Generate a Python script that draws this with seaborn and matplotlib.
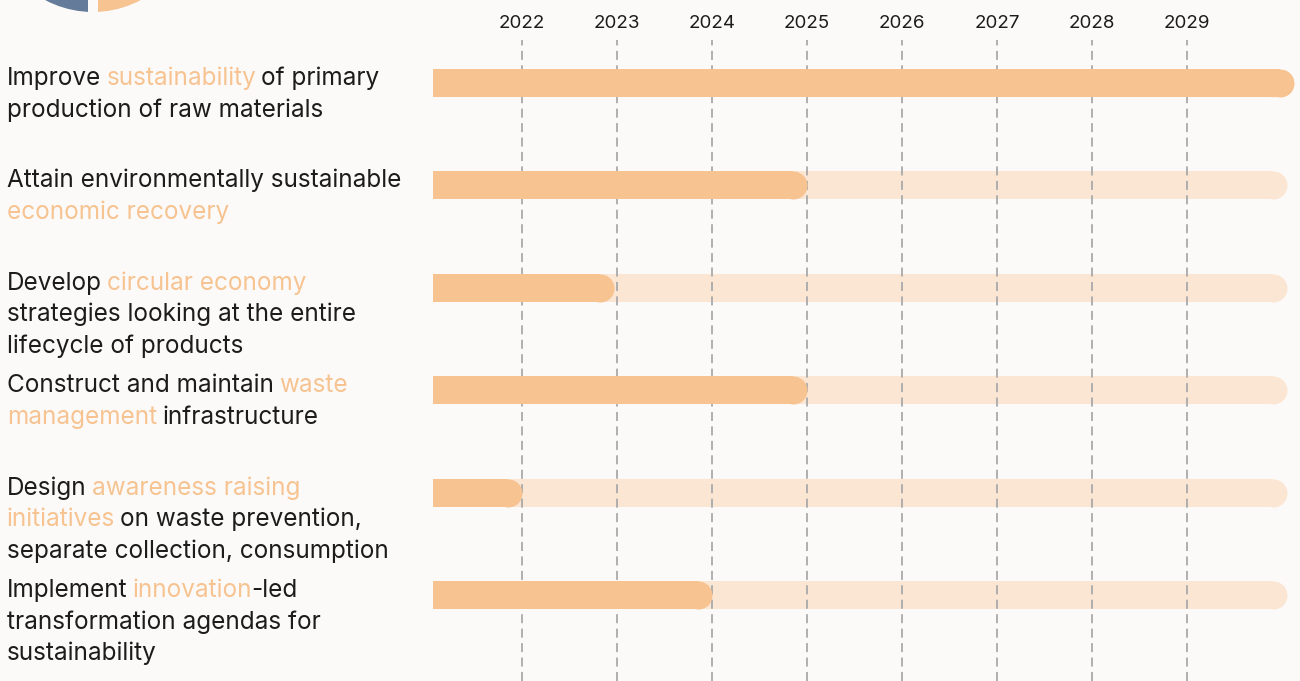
import re
import numpy as np
import pandas as pd
import seaborn as sns
import matplotlib.pyplot as plt
from matplotlib.transforms import blended_transform_factory

# 每一行的标签，方括号内的词用橙色高亮
labels = [
    ["Improve [sustainability] of primary", "production of raw materials"],
    ["Attain environmentally sustainable", "[economic recovery]"],
    ["Develop [circular economy]", "strategies looking at the entire", "lifecycle of products"],
    ["Construct and maintain [waste]", "[management] infrastructure"],
    ["Design [awareness raising]", "[initiatives] on waste prevention,", "separate collection, consumption"],
    ["Implement [innovation]-led", "transformation agendas for", "sustainability"],
]
progress_end = [2030.13, 2025.0, 2022.97, 2025.0, 2022.0, 2024.0]
plan_end = [2030.05, 2030.05, 2030.05, 2030.05, 2030.05, 2030.05]
years = [2022, 2023, 2024, 2025, 2026, 2027, 2028, 2029]
pie_values = [50, 50]

BG = '#fcfaf8'
DARK = '#f6c391'
LIGHT = '#fbe5d3'
BLUE = '#647b99'
INK = '#1c1c1c'
FONT = 'Inter'
FS = 17.5
LINE_PT = 22.7
BAR_W = 0.273


def split_parts(line):
    parts = []
    for p in re.split(r'(\[[^\]]+\])', line):
        if p == '':
            continue
        if p.startswith('['):
            parts.append((p[1:-1], True))
        else:
            parts.append((p, False))
    return parts


def draw_label(ax, fig, row, lines):
    blend = blended_transform_factory(fig.transFigure, ax.transData)
    space = FS * 0.27
    for i, line in enumerate(lines):
        prev = None
        gap = 0
        for text, hl in split_parts(line):
            lead = len(text) - len(text.lstrip(' '))
            trail = len(text) - len(text.rstrip(' '))
            gap += lead * space
            color = DARK if hl else INK
            if prev is None:
                prev = ax.annotate(text.strip(), xy=(7 / 1300, row), xycoords=blend,
                                   xytext=(gap, -i * LINE_PT - 1.5), textcoords='offset points',
                                   va='baseline', ha='left', color=color, fontsize=FS,
                                   family=FONT, annotation_clip=False)
            else:
                prev = ax.annotate(text.strip(), xy=(1, 0), xycoords=prev,
                                   xytext=(gap - 1, 0), textcoords='offset points',
                                   va='bottom', ha='left', color=color, fontsize=FS,
                                   family=FONT, annotation_clip=False)
            gap = trail * space


if __name__ == '__main__':
    sns.set_theme(style='white', rc={'figure.facecolor': BG, 'axes.facecolor': BG})
    plt.rcParams['font.family'] = [FONT, 'DejaVu Sans']

    n = len(labels)
    fig = plt.figure(figsize=(13, 6.81), dpi=100)
    ax = fig.add_axes([433 / 1300, 0, 867 / 1300, 641 / 681])

    # 圆角半径换算成年份单位（95 px 一年）
    r = 14 / 95
    df = pd.DataFrame({'pos': np.arange(n),
                       'plan': np.array(plan_end) - r,
                       'done': np.array(progress_end) - r})

    sns.barplot(data=df, x='plan', y='pos', orient='h', color=LIGHT, saturation=1,
                width=BAR_W, linewidth=0, zorder=1, ax=ax)
    ax.scatter(df['plan'], df['pos'], s=(28 * 0.72) ** 2, color=LIGHT, linewidths=0, zorder=1)
    sns.barplot(data=df, x='done', y='pos', orient='h', color=DARK, saturation=1,
                width=BAR_W, linewidth=0, zorder=3, ax=ax)
    ax.scatter(df['done'], df['pos'], s=(28 * 0.72) ** 2, color=DARK, linewidths=0, zorder=3)

    for yr in years:
        ax.axvline(yr, color='#aaaaaa', lw=1.3, ls=(0, (5, 3)), zorder=2)

    ax.set_xlim(2021.063, 2030.19)
    ax.set_ylim(5.84, -0.42)
    ax.xaxis.tick_top()
    ax.set_xticks(years)
    ax.set_xticklabels([str(y) for y in years], fontsize=13.5, color=INK, family=FONT)
    ax.tick_params(axis='x', length=0, pad=6)
    ax.set_yticks([])
    ax.set_xlabel('')
    ax.set_ylabel('')
    sns.despine(ax=ax, left=True, bottom=True, top=True, right=True)

    for i, lines in enumerate(labels):
        draw_label(ax, fig, i, lines)

    # 左上角露出一点的饼图
    pax = fig.add_axes([-14 / 1300, 664 / 681, 214 / 1300, 214 / 681])
    pax.pie(pie_values, colors=[BLUE, DARK], startangle=90, counterclock=True,
            wedgeprops={'edgecolor': BG, 'linewidth': 7.2})
    pax.set_xlim(-1, 1)
    pax.set_ylim(-1, 1)
    pax.set_aspect('equal')
    pax.axis('off')

    fig.savefig('out.png', dpi=100, facecolor=BG)
